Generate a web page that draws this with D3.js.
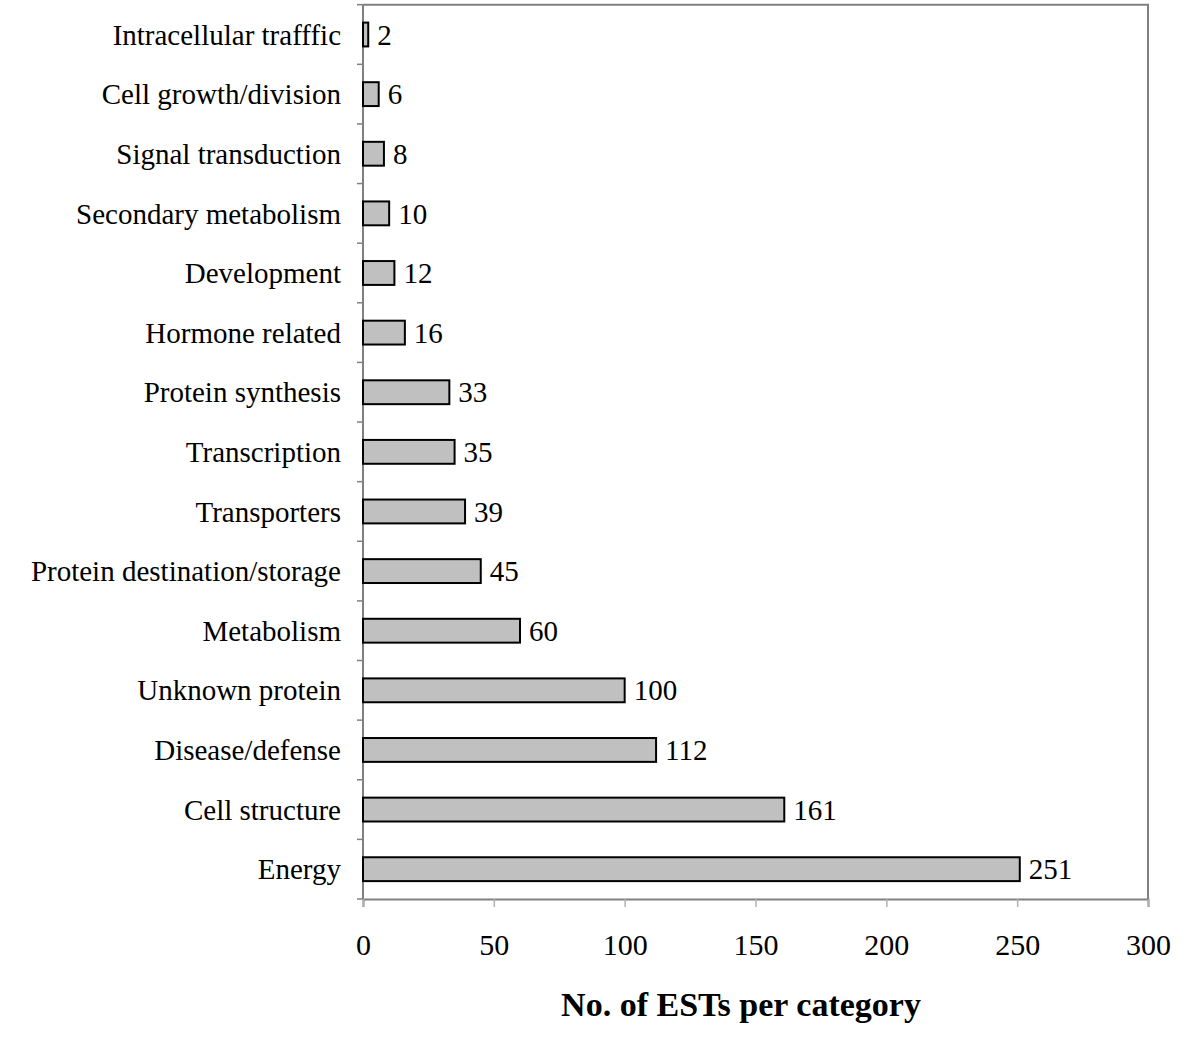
<!DOCTYPE html>
<html>
<head>
<meta charset="utf-8">
<script src="https://cdn.jsdelivr.net/npm/d3@7"></script>
<style>
  body { margin: 0; background: #fff; }
  text { font-family: "Liberation Serif", "Times New Roman", serif; }
</style>
</head>
<body>
<div id="chart"></div>
<script>
const categories = ["Intracellular trafffic", "Cell growth/division", "Signal transduction",
  "Secondary metabolism", "Development", "Hormone related", "Protein synthesis",
  "Transcription", "Transporters", "Protein destination/storage", "Metabolism",
  "Unknown protein", "Disease/defense", "Cell structure", "Energy"];
const counts = [2, 6, 8, 10, 12, 16, 33, 35, 39, 45, 60, 100, 112, 161, 251];
const xTicks = [0, 50, 100, 150, 200, 250, 300];
const xTitle = "No. of ESTs per category";

const W = 1200, H = 1044;
const margin = {top: 4.7, right: 52, bottom: 145, left: 363};
const width = W - margin.left - margin.right;
const height = H - margin.top - margin.bottom;

const svg = d3.select("#chart").append("svg")
  .attr("width", W)
  .attr("height", H);

const g = svg.append("g")
  .attr("transform", "translate(" + margin.left + "," + margin.top + ")");

const x = d3.scaleLinear().domain([0, 300]).range([0, width]);
const y = d3.scaleBand().domain(categories).range([0, height]).paddingInner(0.6).paddingOuter(0.3);
const yB = d3.scaleBand().domain(categories).range([0, height]);

// plot frame (top and right)
g.append("path")
  .attr("d", "M0,0H" + width + "V" + height)
  .attr("fill", "none")
  .attr("stroke", "#808080")
  .attr("stroke-width", 2);

// left axis with ticks on category boundaries
g.append("line")
  .attr("x1", 0).attr("x2", 0).attr("y1", 0).attr("y2", height)
  .attr("stroke", "#808080").attr("stroke-width", 2);
g.selectAll(".ytick")
  .data(categories.concat([null]))
  .join("line")
  .attr("x1", -6).attr("x2", 0)
  .attr("y1", (d, i) => i < categories.length ? yB(d) : height)
  .attr("y2", (d, i) => i < categories.length ? yB(d) : height)
  .attr("stroke", "#808080").attr("stroke-width", 1.5);

g.selectAll(".ylabel")
  .data(categories)
  .join("text")
  .attr("x", -22)
  .attr("y", d => yB(d) + yB.bandwidth() / 2)
  .attr("dy", "0.35em")
  .attr("text-anchor", "end")
  .attr("font-size", 29)
  .attr("fill", "#000")
  .text(d => d);

// bottom axis
const xAxis = d3.axisBottom(x).tickValues(xTicks).tickSize(8).tickPadding(27);
const ax = g.append("g")
  .attr("transform", "translate(0," + height + ")")
  .call(xAxis);
ax.select(".domain").attr("stroke", "#808080").attr("stroke-width", 2);
ax.selectAll(".tick line").attr("stroke", "#b0b0b0").attr("stroke-width", 1.5);
ax.selectAll(".tick text")
  .attr("font-family", "Liberation Serif, serif")
  .attr("font-size", 30)
  .attr("fill", "#000");

// bars
g.selectAll(".bar")
  .data(categories)
  .join("rect")
  .attr("x", 0)
  .attr("y", d => y(d))
  .attr("width", (d, i) => x(counts[i]))
  .attr("height", y.bandwidth())
  .attr("fill", "#c0c0c0")
  .attr("stroke", "#000")
  .attr("stroke-width", 2);

// value labels
g.selectAll(".val")
  .data(categories)
  .join("text")
  .attr("x", (d, i) => x(counts[i]) + 9)
  .attr("y", d => y(d) + y.bandwidth() / 2)
  .attr("dy", "0.35em")
  .attr("font-size", 29)
  .attr("fill", "#000")
  .text((d, i) => counts[i]);

// axis title
svg.append("text")
  .attr("x", 741)
  .attr("y", 1016)
  .attr("text-anchor", "middle")
  .attr("font-size", 34)
  .attr("font-weight", "bold")
  .attr("fill", "#000")
  .text(xTitle);
</script>
</body>
</html>
